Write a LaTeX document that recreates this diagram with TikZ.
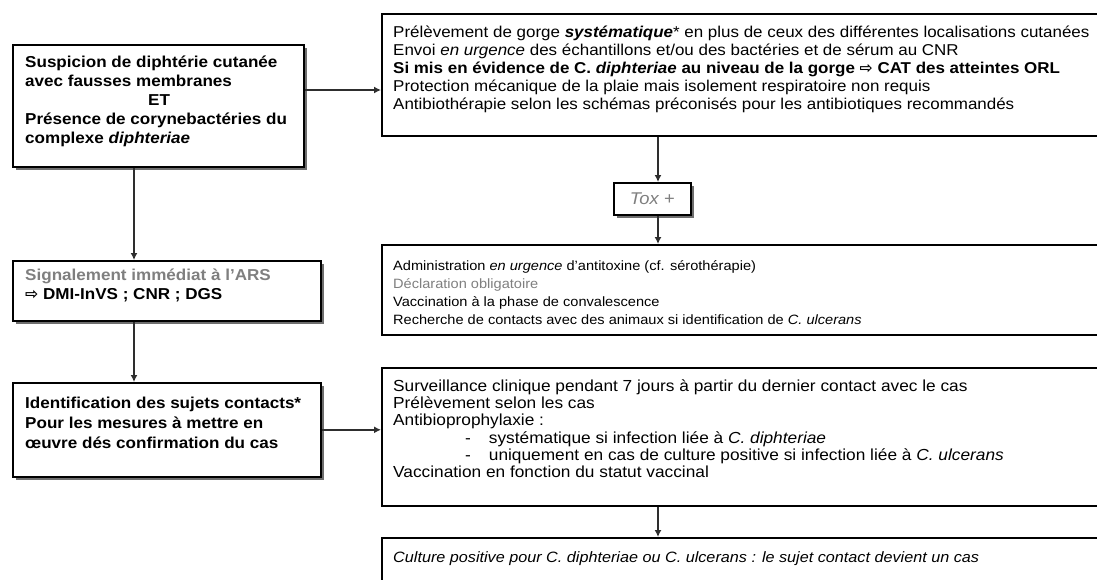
\documentclass[tikz,border=0pt]{standalone}
\usepackage{fontspec}
\setmainfont{Liberation Sans}[FakeStretch=1.08]
\newfontfamily\symf{DejaVu Sans}
\usetikzlibrary{arrows.meta,shadows}
\definecolor{shadowgray}{HTML}{6E6E6E}
\definecolor{txtgray}{HTML}{7F7F7F}
\definecolor{linegray}{HTML}{2E2E2E}
\newcommand{\rarrow}{{\symf ⇨}}
\begin{document}
\begin{tikzpicture}[x=1pt,y=-1pt,
  box/.style={draw=black, line width=1.6pt, fill=white, inner sep=0pt, anchor=north west},
  shbox/.style={box, drop shadow={shadow xshift=3.5pt, shadow yshift=-3.5pt, fill=shadowgray, opacity=1}},
  conn/.style={draw=linegray, line width=2.2pt, -{Latex[length=7pt,width=7pt]}},
  ltxt/.style={anchor=north west, inner sep=0pt, align=left, font=\fontsize{15.8}{19}\selectfont\bfseries},
  rtxt/.style={anchor=north west, inner sep=0pt, align=left, font=\fontsize{15.7}{18}\selectfont},
]
\useasboundingbox (0,0) rectangle (1097,579);
\clip (0,0) rectangle (1097,579);
\fill[white] (0,0) rectangle (1097,579);

% left boxes
\node[shbox, minimum width=291pt, minimum height=122pt] (A) at (12,44) {};
\node[shbox, minimum width=308pt, minimum height=60pt] (B) at (12,260) {};
\node[shbox, minimum width=308pt, minimum height=94pt] (C) at (12,382) {};

% right boxes
\node[box, minimum width=730pt, minimum height=122pt] (R1) at (381,13) {};
\node[shbox, minimum width=77pt, minimum height=32pt] (Tox) at (613,182) {};
\node[box, minimum width=730pt, minimum height=90pt] (R2) at (381,244) {};
\node[box, minimum width=730pt, minimum height=138pt] (R3) at (381,367) {};
\node[box, minimum width=730pt, minimum height=60pt] (R4) at (381,537) {};

% texts
\node[ltxt] (tA) at (25,56) {Suspicion de diphtérie cutanée\\avec fausses membranes\\\hspace*{123pt}ET\\Présence de corynebactéries du\\complexe \textit{diphteriae}};
\node[ltxt] (tB) at (25,269) {\textcolor{txtgray}{Signalement immédiat à l’ARS}\\\rarrow{} DMI-InVS ; CNR ; DGS};
\node[ltxt, font=\fontsize{15.8}{20}\selectfont\bfseries] (tC) at (25,397) {Identification des sujets contacts*\\Pour les mesures à mettre en\\œuvre dés confirmation du cas};

\node[rtxt] (t1) at (393,26) {Prélèvement de gorge \textbf{\textit{systématique}}* en plus de ceux des différentes localisations cutanées\\Envoi \textit{en urgence} des échantillons et/ou des bactéries et de sérum au CNR\\\textbf{Si mis en évidence de C. \textit{diphteriae} au niveau de la gorge \rarrow{} CAT des atteintes ORL}\\Protection mécanique de la plaie mais isolement respiratoire non requis\\Antibiothérapie selon les schémas préconisés pour les antibiotiques recommandés};
\node[anchor=center, inner sep=0pt, font=\fontsize{17}{18}\selectfont\itshape, text=txtgray] (tTox) at (Tox.center) {Tox +};
\node[rtxt, font=\fontsize{13.5}{18}\selectfont] (t2) at (393,260) {Administration \textit{en urgence} d’antitoxine (cf. sérothérapie)\\\textcolor{txtgray}{Déclaration obligatoire}\\Vaccination à la phase de convalescence\\Recherche de contacts avec des animaux si identification de \textit{C. ulcerans}};
\node[rtxt, font=\fontsize{16}{17.2}\selectfont] (t3) at (393,379.5) {Surveillance clinique pendant 7 jours à partir du dernier contact avec le cas\\Prélèvement selon les cas\\Antibioprophylaxie :\\\hspace*{72pt}-\hspace*{18pt}systématique si infection liée à \textit{C. diphteriae}\\\hspace*{72pt}-\hspace*{18pt}uniquement en cas de culture positive si infection liée à \textit{C. ulcerans}\\Vaccination en fonction du statut vaccinal};
\node[rtxt, font=\fontsize{15}{18}\selectfont\itshape] (t4) at (393,551) {Culture positive pour C. diphteriae ou C. ulcerans : le sujet contact devient un cas};

% connectors
\coordinate (xL) at (134,0);
\coordinate (xR) at (658,0);
\coordinate (yA) at (0,90);
\draw[conn] (A.east |- yA) -- (R1.west |- yA);
\draw[conn] (A.south -| xL) -- (B.north -| xL);
\draw[conn] (B.south -| xL) -- (C.north -| xL);
\draw[conn] (C.east) -- (R3.west |- C.east);
\draw[conn] (R1.south -| xR) -- (Tox.north -| xR);
\draw[conn] (Tox.south -| xR) -- (R2.north -| xR);
\draw[conn] (R3.south -| xR) -- (R4.north -| xR);
\end{tikzpicture}
\end{document}
